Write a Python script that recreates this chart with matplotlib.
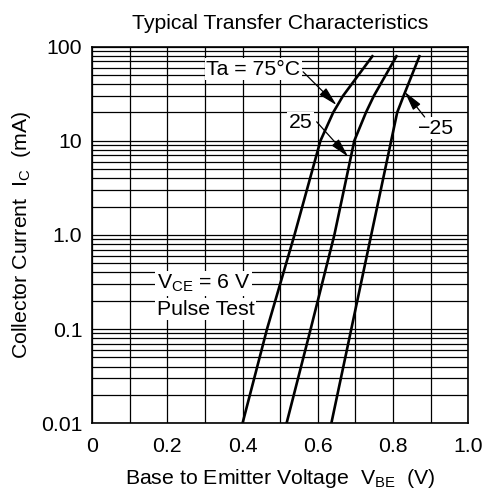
import matplotlib
matplotlib.use("Agg")
import matplotlib.pyplot as plt
from matplotlib.ticker import FixedLocator, NullFormatter, LogLocator

plt.rcParams['font.family'] = ['Liberation Sans', 'DejaVu Sans']

# Data
vbe_75 = [0.400, 0.465, 0.538, 0.607, 0.641, 0.667, 0.745]
ic_75 = [0.01, 0.1, 1.0, 10, 20, 30, 79]
vbe_25 = [0.517, 0.581, 0.644, 0.697, 0.728, 0.749, 0.809]
ic_25 = [0.01, 0.1, 1.0, 10, 20, 30, 79]
vbe_m25 = [0.636, 0.689, 0.742, 0.795, 0.811, 0.828, 0.870]
ic_m25 = [0.01, 0.1, 1.0, 10, 20, 30, 79]

xticks = [0, 0.2, 0.4, 0.6, 0.8, 1.0]
xticklabels = ["0", "0.2", "0.4", "0.6", "0.8", "1.0"]
yticks = [0.01, 0.1, 1.0, 10, 100]
yticklabels = ["0.01", "0.1", "1.0", "10", "100"]

FS = 15.3

fig = plt.figure(figsize=(4.85, 4.96), dpi=100)
ax = fig.add_axes([0.1897, 0.1466, 0.7759, 0.7594])

ax.set_yscale('log')
ax.set_xlim(0, 1.0)
ax.set_ylim(0.01, 100)

ax.set_xticks(xticks)
ax.set_xticklabels(xticklabels)
ax.xaxis.set_minor_locator(FixedLocator([i / 10 for i in range(11)]))
ax.set_yticks(yticks)
ax.set_yticklabels(yticklabels)
ax.yaxis.set_minor_locator(LogLocator(base=10, subs=range(2, 10), numticks=20))
ax.yaxis.set_minor_formatter(NullFormatter())

ax.tick_params(which='both', length=0, labelsize=FS, colors='black')
ax.tick_params(axis='y', pad=7)
ax.tick_params(axis='x', pad=10)
ax.grid(True, which='both', color='black', linewidth=0.9)
ax.set_axisbelow(True)
for s in ax.spines.values():
    s.set_color('black')
    s.set_linewidth(1.2)

for v, i in [(vbe_75, ic_75), (vbe_25, ic_25), (vbe_m25, ic_m25)]:
    ax.plot(v, i, color='black', linewidth=1.9, zorder=3)

bbox = dict(facecolor='white', edgecolor='none', pad=1.0)
arrowprops = dict(arrowstyle='-|>,head_length=0.9,head_width=0.22', color='black',
                  linewidth=0.9, mutation_scale=13, shrinkA=0, shrinkB=0)

ax.text(0.429, 57.7, "Ta = 75°C", ha='center', va='center', fontsize=FS,
        bbox=bbox, zorder=4)
ax.annotate("", xy=(0.650, 23.9), xytext=(0.561, 54), arrowprops=arrowprops, zorder=4)

ax.text(0.555, 15.6, "25", ha='center', va='center', fontsize=FS,
        bbox=bbox, zorder=4)
ax.annotate("", xy=(0.681, 6.75), xytext=(0.597, 15.9), arrowprops=arrowprops, zorder=4)

ax.text(0.913, 13.6, "\u221225", ha='center', va='center', fontsize=FS,
        bbox=bbox, zorder=4)
ax.annotate("", xy=(0.831, 33.1), xytext=(0.884, 17.9), arrowprops=arrowprops, zorder=4)

ax.text(0.172, 0.307, "V$_{\\mathregular{CE}}$ = 6 V", ha='left', va='center',
        fontsize=FS, bbox=bbox, zorder=4)
ax.text(0.172, 0.162, "Pulse Test", ha='left', va='center',
        fontsize=FS, bbox=bbox, zorder=4)

ax.set_title("Typical Transfer Characteristics", fontsize=FS, pad=13)
ax.set_xlabel("Base to Emitter Voltage  V$_{\\mathregular{BE}}$  (V)", fontsize=FS, labelpad=8)
ax.set_ylabel("Collector Current  I$_{\\mathregular{C}}$  (mA)", fontsize=FS, labelpad=6)

fig.savefig("out.png", dpi=100, facecolor='white')
